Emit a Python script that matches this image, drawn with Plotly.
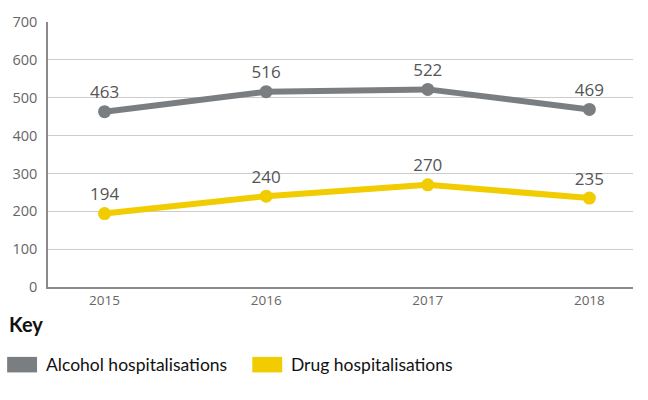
import plotly.graph_objects as go

years = [2015, 2016, 2017, 2018]
alcohol = [463, 516, 522, 469]
drug = [194, 240, 270, 235]
y_ticks = [0, 100, 200, 300, 400, 500, 600, 700]

GREY = "#7b7e81"
YELLOW = "#f0cc00"
FONT = "Lato, 'Open Sans', sans-serif"
TICK_FONT = "'Open Sans', sans-serif"

fig = go.Figure()

for name, vals, col in [("Alcohol hospitalisations", alcohol, GREY),
                        ("Drug hospitalisations", drug, YELLOW)]:
    fig.add_trace(go.Scatter(
        x=years, y=vals, name=name, mode="lines+markers+text",
        line=dict(color=col, width=6),
        marker=dict(color=col, size=13),
        text=[str(v) for v in vals],
        textposition="top center",
        textfont=dict(size=17, color="#555555", family=TICK_FONT),
        cliponaxis=False,
        showlegend=False,
    ))

fig.update_layout(
    width=648, height=400,
    margin=dict(l=46, r=15, t=14, b=113),
    paper_bgcolor="white", plot_bgcolor="white",
    font=dict(family=FONT, color="#555555"),
    xaxis=dict(
        range=[2014.65, 2018.27], tickvals=years,
        ticktext=[str(y) for y in years],
        showgrid=False, zeroline=False,
        showline=True, linecolor="#8a8a8a", linewidth=1.5,
        ticks="", tickfont=dict(size=13.5, color="#666666", family=TICK_FONT),
    ),
    yaxis=dict(
        range=[0, 700], tickvals=y_ticks,
        showgrid=True, gridcolor="#cccccc", gridwidth=1,
        zeroline=False, showline=True, linecolor="#8a8a8a", linewidth=1.5,
        ticks="", ticklabelstandoff=6,
        tickfont=dict(size=14.5, color="#666666", family=TICK_FONT),
    ),
)

# Key heading and legend swatches
fig.add_annotation(xref="paper", yref="paper", x=-41/587, y=-38/273,
                   xanchor="left", yanchor="middle", showarrow=False,
                   text="<b>Key</b>", font=dict(size=20, color="#111111", family=FONT))

legend_items = [("Alcohol hospitalisations", GREY, 5),
                ("Drug hospitalisations", YELLOW, 251)]
for label, col, x0 in legend_items:
    fig.add_shape(type="rect", xref="paper", yref="paper",
                  x0=(x0 - 46) / 587, x1=(x0 + 30 - 46) / 587,
                  y0=(287 - 375) / 273, y1=(287 - 359) / 273,
                  fillcolor=col, line=dict(width=0))
    fig.add_annotation(xref="paper", yref="paper",
                       x=(x0 + 37 - 46) / 587, y=(287 - 367) / 273,
                       xanchor="left", yanchor="middle", showarrow=False,
                       text=label, font=dict(size=17.5, color="#111111", family=FONT))

fig.write_html("out.html")
